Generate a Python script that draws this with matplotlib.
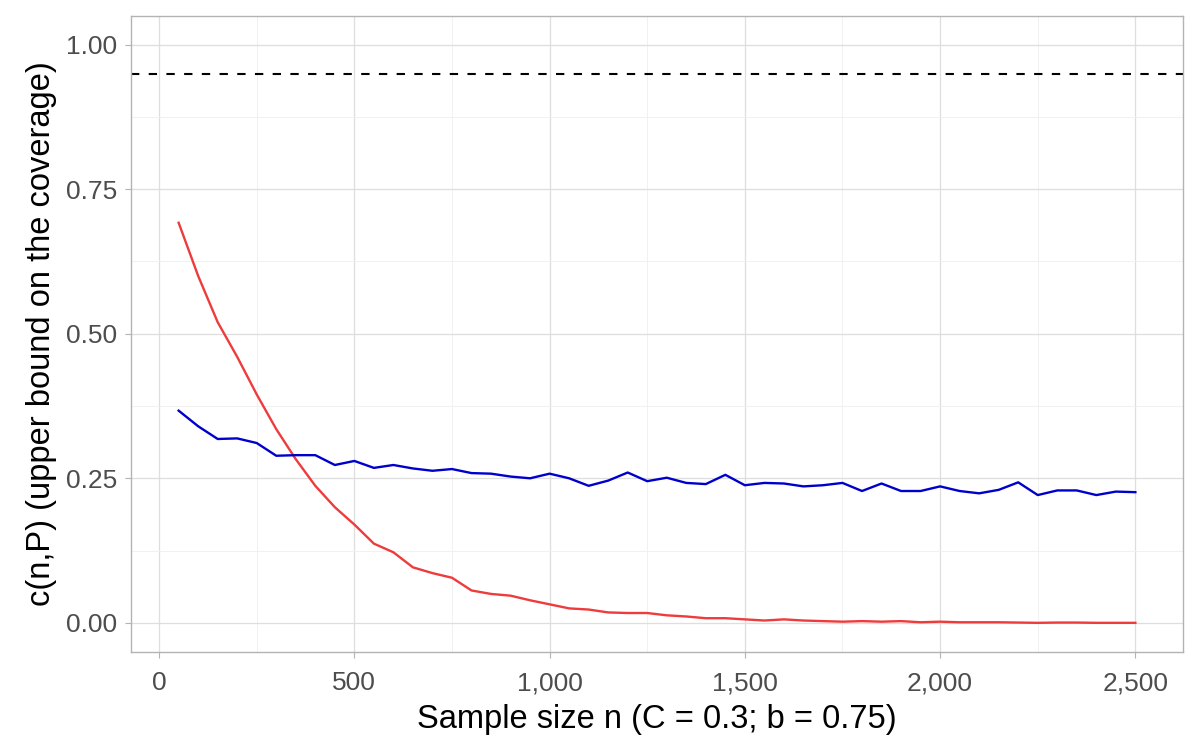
import matplotlib.pyplot as plt
from matplotlib.ticker import FuncFormatter, MultipleLocator

plt.rcParams['font.family'] = ['Liberation Sans', 'DejaVu Sans']

# sample sizes
n = list(range(50, 2501, 50))

# upper bound on coverage
red_vals = [0.692, 0.600, 0.520, 0.460, 0.395, 0.335, 0.283, 0.237, 0.200, 0.170,
            0.137, 0.122, 0.096, 0.086, 0.078, 0.056, 0.050, 0.047, 0.039, 0.032,
            0.025, 0.023, 0.018, 0.017, 0.017, 0.013, 0.011, 0.008, 0.008, 0.006,
            0.004, 0.006, 0.004, 0.003, 0.002, 0.003, 0.002, 0.003, 0.001, 0.002,
            0.001, 0.001, 0.001, 0.0005, 0.0, 0.0005, 0.0005, 0.0, 0.0, 0.0]
blue_vals = [0.367, 0.340, 0.318, 0.319, 0.311, 0.289, 0.290, 0.290, 0.273, 0.280,
             0.268, 0.273, 0.267, 0.263, 0.266, 0.259, 0.258, 0.253, 0.250, 0.258,
             0.250, 0.237, 0.246, 0.260, 0.245, 0.251, 0.242, 0.240, 0.256, 0.238,
             0.242, 0.241, 0.236, 0.238, 0.242, 0.228, 0.241, 0.228, 0.228, 0.236,
             0.228, 0.224, 0.230, 0.243, 0.221, 0.229, 0.229, 0.221, 0.227, 0.226]
target = 0.95

fig = plt.figure(figsize=(12, 7.5), dpi=100)
ax = fig.add_axes([0.109, 0.131, 0.877, 0.848])

# grid like ggplot theme_light
ax.xaxis.set_major_locator(MultipleLocator(500))
ax.xaxis.set_minor_locator(MultipleLocator(250))
ax.yaxis.set_major_locator(MultipleLocator(0.25))
ax.yaxis.set_minor_locator(MultipleLocator(0.125))
ax.grid(which='major', color='#DEDEDE', linewidth=0.9)
ax.grid(which='minor', color='#EFEFEF', linewidth=0.6)
ax.set_axisbelow(True)

ax.axhline(target, color='black', linestyle=(0, (4, 4.5)), linewidth=1.5)
ax.plot(n, red_vals, color='#EE3B3B', linewidth=1.7)
ax.plot(n, blue_vals, color='#0000CD', linewidth=1.7)

ax.set_xlim(-72.5, 2622.5)
ax.set_ylim(-0.05, 1.05)
ax.xaxis.set_major_formatter(FuncFormatter(lambda v, p: f'{int(v):,}'))
ax.yaxis.set_major_formatter(FuncFormatter(lambda v, p: f'{v:.2f}'))

for s in ax.spines.values():
    s.set_color('#B3B3B3')
    s.set_linewidth(1.0)
ax.tick_params(which='major', length=4, color='#B3B3B3', labelsize=19,
               labelcolor='#4D4D4D')
ax.tick_params(axis='y', pad=6)
ax.tick_params(axis='x', pad=10)
ax.tick_params(which='minor', length=0)

ax.set_xlabel('Sample size n (C = 0.3; b = 0.75)', fontsize=23.5, labelpad=6)
ax.set_ylabel('c(n,P) (upper bound on the coverage)', fontsize=23.5, labelpad=6)

fig.savefig('out.png', dpi=100)
